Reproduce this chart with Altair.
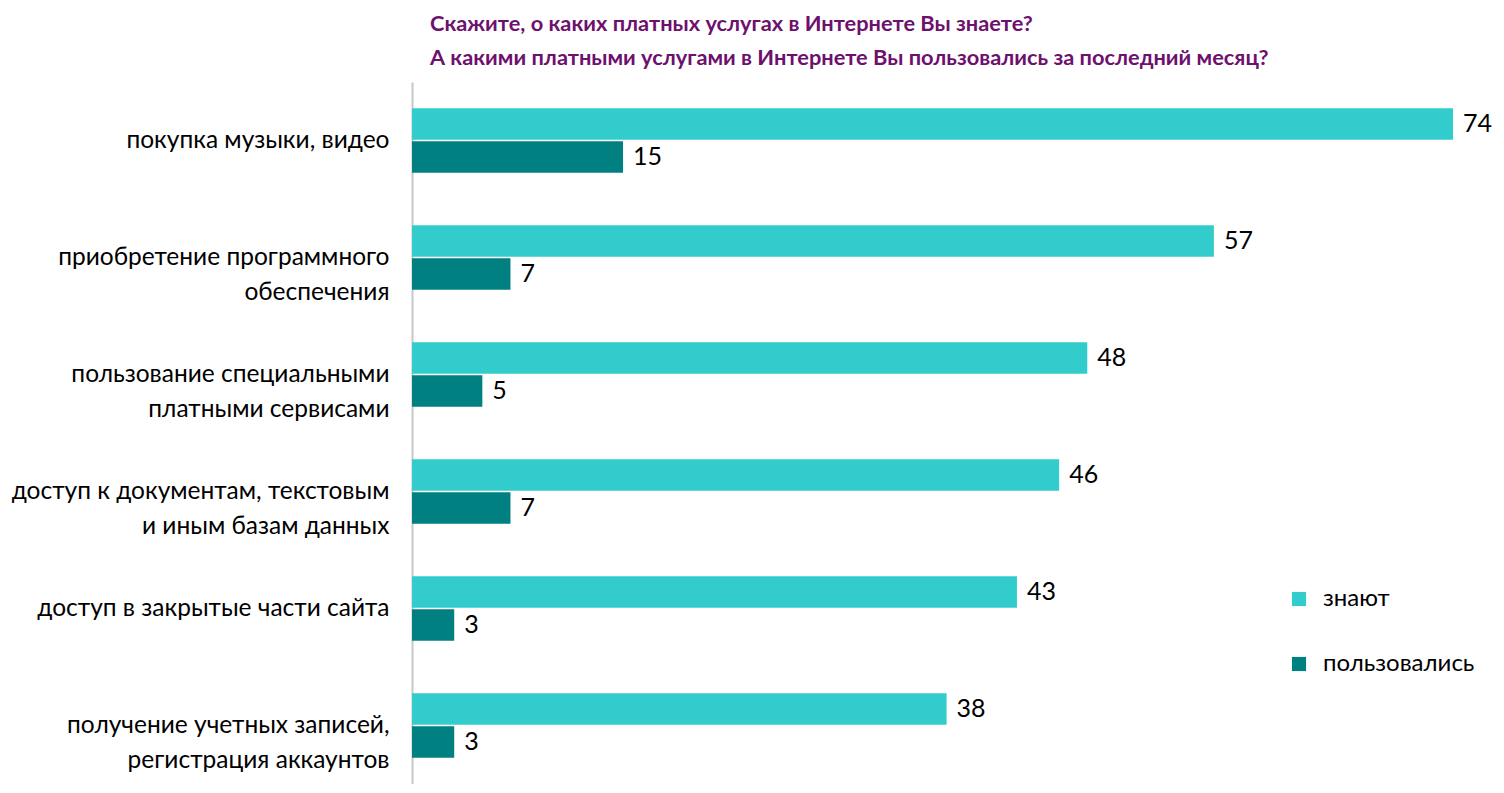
import altair as alt
import pandas as pd

categories = [
    "покупка музыки, видео",
    "приобретение программного|обеспечения",
    "пользование специальными|платными сервисами",
    "доступ к документам, текстовым|и иным базам данных",
    "доступ в закрытые части сайта",
    "получение учетных записей,|регистрация аккаунтов",
]
series = ["знают", "пользовались"]
know = [74, 57, 48, 46, 43, 38]
used = [15, 7, 5, 7, 3, 3]
colors = ["#33CCCC", "#008080"]

rows = []
for c, k, u in zip(categories, know, used):
    rows.append({"cat": c, "series": series[0], "value": k})
    rows.append({"cat": c, "series": series[1], "value": u})
df = pd.DataFrame(rows)

FONT = "Lato"

y_enc = alt.Y(
    "cat:N",
    sort=categories,
    scale=alt.Scale(paddingInner=0.45, paddingOuter=0.225),
    axis=alt.Axis(
        title=None,
        labelExpr="split(datum.label, '|')",
        labelFontSize=24.5,
        labelFont=FONT,
        labelColor="#000000",
        labelLineHeight=35,
        labelPadding=23,
        ticks=False,
        domain=True,
        domainColor="#C8C8C8",
        domainWidth=2,
        labelLimit=500,
    ),
)
yoff = alt.YOffset("series:N", sort=series, scale=alt.Scale(paddingInner=0.04))
x_enc = alt.X("value:Q", scale=alt.Scale(domain=[0, 76.2], nice=False), axis=None)

bars = alt.Chart(df).mark_bar().encode(
    y=y_enc,
    yOffset=yoff,
    x=x_enc,
    color=alt.Color(
        "series:N",
        sort=series,
        scale=alt.Scale(domain=series, range=colors),
        legend=alt.Legend(
            title=None,
            orient="none",
            legendX=875,
            legendY=505,
            symbolType="square",
            symbolSize=200,
            symbolStrokeWidth=0,
            labelFontSize=24,
            labelFont=FONT,
            labelColor="#000000",
            labelOffset=12,
            rowPadding=41,
        ),
    ),
)

labels = alt.Chart(df).mark_text(
    align="left", baseline="middle", dx=10, fontSize=25, font=FONT, color="#000000"
).encode(y=y_enc, yOffset=yoff, x=x_enc, text="value:Q")

chart = (
    alt.layer(bars, labels)
    .properties(
        width=1072,
        height=702,
        padding={"left": 3, "top": 6, "right": 0, "bottom": 0},
        title=alt.Title(
            ["Скажите, о каких платных услугах в Интернете Вы знаете?",
             "А какими платными услугами в Интернете Вы пользовались за последний месяц?"],
            anchor="start",
            frame="group",
            dx=18,
            fontSize=21.8,
            font=FONT,
            fontWeight="bold",
            color="#6E106E",
            lineHeight=34,
            offset=12,
        ),
    )
    .configure_view(stroke=None)
)

chart.save("out.html", embed_options={"renderer": "svg", "actions": False})
